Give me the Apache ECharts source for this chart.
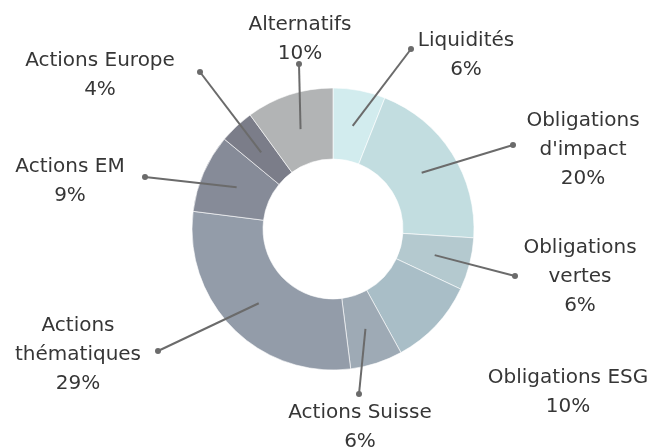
<!DOCTYPE html>
<html><head><meta charset="utf-8">
<script src="https://cdn.jsdelivr.net/npm/echarts@6/dist/echarts.min.js"></script>
<style>html,body{margin:0;padding:0;background:#fff}#c{width:656px;height:447px}</style>
</head><body><div id="c"></div>
<script>
var categories = ["Liquidités","Obligations d'impact","Obligations vertes","Obligations ESG","Actions Suisse","Actions thématiques","Actions EM","Actions Europe","Alternatifs"];
var labelTexts = ["Liquidités","Obligations\nd'impact","Obligations\nvertes","Obligations ESG","Actions Suisse","Actions\nthématiques","Actions EM","Actions Europe","Alternatifs"];
var values = [6,20,6,10,6,29,9,4,10];
var colors = ["#d2ecee","#c2dde0","#b4c9cf","#a9bec7","#9eaab5","#939ca9","#868b98","#7b7d89","#b2b4b5"];
var hasLine = [true,true,true,false,true,true,true,true,true];

// layout (label block centres and line end dots), in pixels
var labelPos = [[466,55],[583,150],[580,277],[568,392],[360,427],[78,355],[70,181],[100,75],[300,39]];
var dotPos = [[411,49],[513,145],[515,276],null,[359,394],[158,351],[145,177],[200,72],[299,64]];

var chart = echarts.init(document.getElementById('c'));
var mainData = categories.map(function(n,i){return {name:n,value:values[i],itemStyle:{color:colors[i]}};});
var lineData = categories.map(function(n,i){return {name:n,value:values[i],labelLine:{show:hasLine[i]},label:{show:hasLine[i]}};});

chart.setOption({
  animation:false,
  series:[
    {
      type:'pie', center:[333,229], radius:[70,141], startAngle:90, clockwise:true,
      avoidLabelOverlap:false, silent:true,
      itemStyle:{borderColor:'#ffffff',borderWidth:0.6},
      label:{show:true,position:'outside',
        formatter:function(p){return labelTexts[p.dataIndex]+'\n'+p.value+'%';},
        fontFamily:'DejaVu Sans',fontSize:20,color:'#363636',lineHeight:29,align:'center'},
      labelLine:{show:false},
      labelLayout:function(p){var q=labelPos[p.dataIndex];return {x:q[0],y:q[1],align:'center',verticalAlign:'middle'};},
      data:mainData
    },
    {
      type:'pie', center:[333,229], radius:[0,105], startAngle:90, clockwise:true,
      avoidLabelOverlap:false, silent:true, z:5,
      itemStyle:{color:'rgba(0,0,0,0)'},
      label:{show:true,position:'outside',formatter:'{d|}',
        rich:{d:{width:6,height:6,borderRadius:3,backgroundColor:'#6b6b6b'}}},
      labelLine:{show:true,length:5,length2:5,lineStyle:{color:'#6b6b6b',width:2}},
      labelLayout:function(p){
        var q=dotPos[p.dataIndex]; if(!q) return {};
        var s=p.labelLinePoints?p.labelLinePoints[0]:null;
        var o={x:q[0],y:q[1],align:'center',verticalAlign:'middle'};
        if(s){o.labelLinePoints=[s,q,q];}
        return o;
      },
      data:lineData
    }
  ]
});
</script></body></html>
